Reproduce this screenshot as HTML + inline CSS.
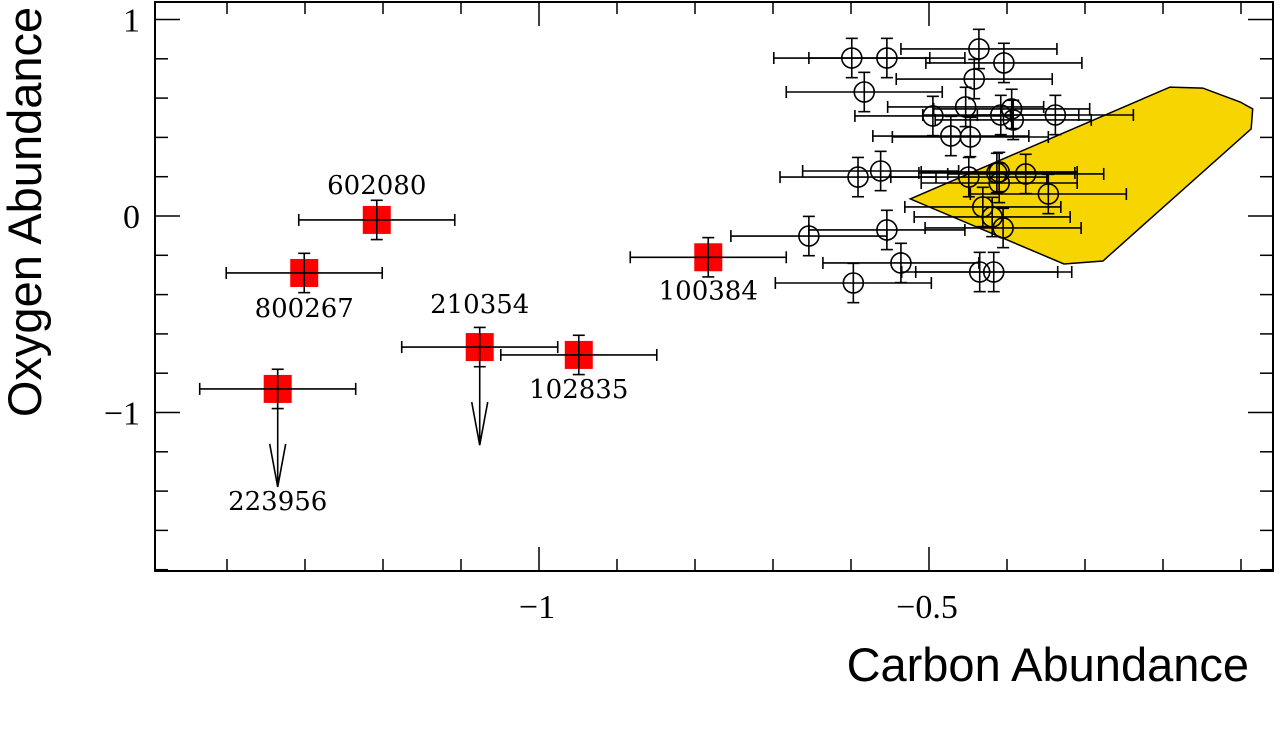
<!DOCTYPE html>
<html><head><meta charset="utf-8"><style>
html,body{margin:0;padding:0;background:#fff;}
svg{display:block;}
</style></head><body>
<svg id="chart" width="1280" height="730" viewBox="0 0 1280 730" xmlns="http://www.w3.org/2000/svg">
<g id="poly"></g>
<g id="circles"></g>
<g id="squares"></g>
<g id="axes"></g>
<text x="0" y="0" transform="translate(41,212) rotate(-90)" text-anchor="middle" style="font-family:'Liberation Sans',sans-serif;font-size:47px">Oxygen Abundance</text>
<text x="1249" y="681" text-anchor="end" style="font-family:'Liberation Sans',sans-serif;font-size:47px">Carbon Abundance</text>
</svg>
<script>
const xTickMajor=[-1,-0.5];
const xTickLabels=["\u22121","\u22120.5"];
const yTickMajor=[1,0,-1];
const yTickLabels=["1","0","\u22121"];
const sqX=[-1.208,-1.301,-1.335,-1.076,-0.949,-0.783];
const sqY=[-0.02,-0.29,-0.88,-0.667,-0.707,-0.21];
const sqNames=["602080","800267","223956","210354","102835","100384"];
const sqUpper=[false,false,true,true,false,false];
const sqLabelDy=[-26,44,121,-34,43,42];
const cX=[-0.599,-0.554,-0.436,-0.404,-0.442,-0.583,-0.453,-0.495,-0.408,-0.394,-0.392,-0.338,-0.472,-0.447,-0.591,-0.562,-0.449,-0.413,-0.410,-0.376,-0.410,-0.347,-0.431,-0.419,-0.405,-0.654,-0.554,-0.536,-0.435,-0.417,-0.597];
const cY=[0.804,0.804,0.850,0.779,0.697,0.631,0.555,0.509,0.514,0.545,0.489,0.514,0.407,0.402,0.198,0.229,0.198,0.219,0.224,0.214,0.168,0.112,0.046,-0.005,-0.061,-0.102,-0.071,-0.239,-0.285,-0.285,-0.341];
const xErr=0.1, yErr=0.1;
const polyX=[-0.524,-0.191,-0.149,-0.101,-0.085,-0.087,-0.277,-0.327];
const polyY=[0.087,0.656,0.651,0.580,0.545,0.443,-0.229,-0.244];

const L=155,R=1273,T=2,B=571;
const sx=v=>539+(v+1)*780;
const sy=v=>216-v*196.5;
const NS="http://www.w3.org/2000/svg";
function mk(tag,attrs,parent){const e=document.createElementNS(NS,tag);for(const k in attrs)e.setAttribute(k,attrs[k]);parent.appendChild(e);return e;}
const ax=document.getElementById('axes');
const frame=mk('rect',{x:L,y:T,width:R-L,height:B-T,fill:'none',stroke:'#000','stroke-width':2},ax);


for(let i=-15;i<=-1;i++){const v=i/10;const px=sx(v);if(px<L+2||px>R-2)continue;const maj=(i%5===0);const len=maj?24:12;
 const t1=mk('line',{x1:px,x2:px,y1:B,y2:B-len,stroke:'#000','stroke-width':1.5},ax);
 
 
 const t2=mk('line',{x1:px,x2:px,y1:T,y2:T+len,stroke:'#000','stroke-width':1.5},ax);
 
 }
xTickMajor.forEach((v,i)=>{const t=mk('text',{x:sx(v)-2,y:618,'text-anchor':'middle',style:"font-family:'Liberation Serif',serif;font-size:34px"},ax);t.textContent=xTickLabels[i];
 
 });
for(let i=-9;i<=5;i++){const v=i/5;const py=sy(v);if(py<T+1||py>B-1)continue;const maj=(i%5===0);const len=maj?25:13;
 const t1=mk('line',{x1:L,x2:L+len,y1:py,y2:py,stroke:'#000','stroke-width':1.5},ax);
 
 
 const t2=mk('line',{x1:R,x2:R-len,y1:py,y2:py,stroke:'#000','stroke-width':1.5},ax);
 
 }
yTickMajor.forEach((v,i)=>{const t=mk('text',{x:140,y:sy(v)+12,'text-anchor':'end',style:"font-family:'Liberation Serif',serif;font-size:34px"},ax);t.textContent=yTickLabels[i];
 
 });

const pg=document.getElementById('poly');
const poly=mk('polygon',{points:polyX.map((x,i)=>sx(x)+','+sy(polyY[i])).join(' '),fill:'#f7d500',stroke:'#000','stroke-width':1.5},pg);



function errbars(g,x,y){const x1=sx(x-xErr),x2=sx(x+xErr),y1=sy(y+yErr),y2=sy(y-yErr),cx=sx(x),cy=sy(y);
 mk('line',{x1:x1,x2:x2,y1:cy,y2:cy,stroke:'#000','stroke-width':1.6},g);
 mk('line',{x1:x1,x2:x1,y1:cy-6,y2:cy+6,stroke:'#000','stroke-width':1.6},g);
 mk('line',{x1:x2,x2:x2,y1:cy-6,y2:cy+6,stroke:'#000','stroke-width':1.6},g);
 mk('line',{x1:cx,x2:cx,y1:y1,y2:y2,stroke:'#000','stroke-width':1.6},g);
 mk('line',{x1:cx-6,x2:cx+6,y1:y1,y2:y1,stroke:'#000','stroke-width':1.6},g);
 mk('line',{x1:cx-6,x2:cx+6,y1:y2,y2:y2,stroke:'#000','stroke-width':1.6},g);}

const cg=document.getElementById('circles');
cX.forEach((x,i)=>{const g=mk('g',{},cg);
 
 
 errbars(g,x,cY[i]);
 mk('circle',{cx:sx(x),cy:sy(cY[i]),r:10,fill:'none',stroke:'#000','stroke-width':1.6},g);});

const sg=document.getElementById('squares');
sqX.forEach((x,i)=>{const g=mk('g',{},sg);
 
 
 const cx=sx(x),cy=sy(sqY[i]);
 mk('rect',{x:cx-14,y:cy-14,width:28,height:28,fill:'#ff0000'},g);
 errbars(g,x,sqY[i]);
 if(sqUpper[i]){const ye=cy+98;
  mk('line',{x1:cx,x2:cx,y1:cy,y2:ye,stroke:'#000','stroke-width':1.6},g);
  mk('polyline',{points:(cx-8)+','+(ye-43)+' '+cx+','+ye+' '+(cx+8)+','+(ye-43),fill:'none',stroke:'#000','stroke-width':1.6},g);}
 const t=mk('text',{x:cx,y:cy+sqLabelDy[i],'text-anchor':'middle',style:"font-family:'DejaVu Serif',serif;font-size:26px"},g);
 t.textContent=sqNames[i];
 
 });
</script>
</body></html>
